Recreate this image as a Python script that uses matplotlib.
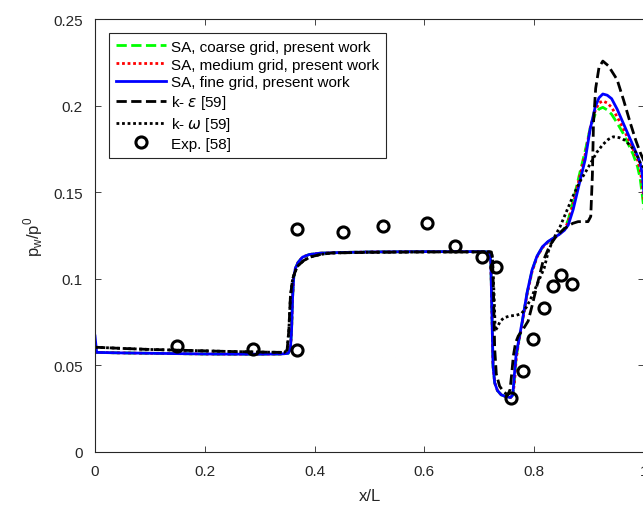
import matplotlib
matplotlib.use("Agg")
import matplotlib.pyplot as plt

plt.rcParams['font.family'] = ['Liberation Sans', 'DejaVu Sans']
plt.rcParams['mathtext.fontset'] = 'custom'
plt.rcParams['mathtext.rm'] = 'Liberation Sans'

# SA (present work) - common x grid
x_sa = [0.0, 0.003, 0.05, 0.10, 0.15, 0.20, 0.25, 0.30, 0.34, 0.352, 0.356, 0.358, 0.360,
        0.362, 0.365, 0.370, 0.378, 0.39, 0.41, 0.45, 0.50, 0.60, 0.70, 0.718, 0.721,
        0.723, 0.725, 0.728, 0.733, 0.740, 0.750, 0.757, 0.761, 0.764, 0.767, 0.771,
        0.778, 0.787, 0.796, 0.805, 0.815, 0.825, 0.835, 0.845, 0.855, 0.862, 0.871,
        0.883, 0.893, 0.902, 0.911, 0.918, 0.925, 0.933, 0.941, 0.951, 0.962, 0.971,
        0.980, 0.988, 0.993, 0.997, 1.0]

sa_fine = [0.067, 0.0575, 0.0572, 0.0570, 0.0568, 0.0566, 0.0565, 0.0565, 0.0566, 0.0570,
           0.0600, 0.0700, 0.0900, 0.1010, 0.1060, 0.1095, 0.1125, 0.1140, 0.1148, 0.1152,
           0.1155, 0.1157, 0.1157, 0.1155, 0.1100, 0.0800, 0.0500, 0.0400, 0.0355, 0.0330,
           0.0318, 0.0315, 0.0330, 0.0450, 0.0560, 0.0630, 0.0750, 0.0920, 0.1050, 0.1130,
           0.1185, 0.1215, 0.1235, 0.1255, 0.1280, 0.1310, 0.1400, 0.1560, 0.1690, 0.1865,
           0.1990, 0.2045, 0.2067, 0.2060, 0.2040, 0.1980, 0.1900, 0.1835, 0.1770, 0.1710,
           0.1670, 0.1600, 0.1490]

sa_medium = [0.0580, 0.0575, 0.0572, 0.0570, 0.0568, 0.0566, 0.0565, 0.0565, 0.0566, 0.0570,
             0.0600, 0.0700, 0.0900, 0.1010, 0.1060, 0.1095, 0.1125, 0.1140, 0.1148, 0.1152,
             0.1155, 0.1157, 0.1157, 0.1155, 0.1100, 0.0800, 0.0500, 0.0400, 0.0355, 0.0330,
             0.0318, 0.0315, 0.0325, 0.0400, 0.0530, 0.0620, 0.0740, 0.0910, 0.1040, 0.1125,
             0.1180, 0.1212, 0.1233, 0.1255, 0.1285, 0.1330, 0.1430, 0.1590, 0.1720, 0.1870,
             0.1970, 0.2015, 0.2027, 0.2015, 0.1990, 0.1935, 0.1870, 0.1810, 0.1750, 0.1690,
             0.1630, 0.1540, 0.1450]

sa_coarse = [0.0580, 0.0575, 0.0572, 0.0570, 0.0568, 0.0566, 0.0565, 0.0565, 0.0566, 0.0570,
             0.0600, 0.0700, 0.0900, 0.1010, 0.1060, 0.1095, 0.1125, 0.1140, 0.1148, 0.1152,
             0.1155, 0.1157, 0.1157, 0.1155, 0.1100, 0.0800, 0.0500, 0.0400, 0.0355, 0.0330,
             0.0318, 0.0315, 0.0328, 0.0420, 0.0540, 0.0625, 0.0745, 0.0915, 0.1045, 0.1128,
             0.1182, 0.1213, 0.1234, 0.1255, 0.1290, 0.1340, 0.1450, 0.1610, 0.1740, 0.1870,
             0.1950, 0.1980, 0.1990, 0.1975, 0.1950, 0.1900, 0.1840, 0.1780, 0.1720, 0.1650,
             0.1580, 0.1480, 0.1400]

# k-epsilon [59]
x_ke = [0.0, 0.05, 0.10, 0.15, 0.20, 0.25, 0.30, 0.345, 0.350, 0.353, 0.356, 0.360, 0.368,
        0.380, 0.392, 0.410, 0.430, 0.50, 0.60, 0.70, 0.722, 0.724, 0.726, 0.728, 0.731,
        0.737, 0.745, 0.752, 0.756, 0.759, 0.762, 0.766, 0.771, 0.780, 0.789, 0.796, 0.805,
        0.816, 0.828, 0.840, 0.855, 0.870, 0.880, 0.898, 0.903, 0.906, 0.908, 0.912, 0.918,
        0.925, 0.935, 0.951, 0.963, 0.975, 0.985, 0.993, 1.0]
y_ke = [0.0605, 0.0598, 0.0592, 0.0588, 0.0584, 0.0580, 0.0577, 0.0575, 0.0590, 0.0700,
        0.0900, 0.1000, 0.1070, 0.1105, 0.1126, 0.1140, 0.1149, 0.1153, 0.1155, 0.1155,
        0.1155, 0.1120, 0.0900, 0.0600, 0.0450, 0.0380, 0.0345, 0.0330, 0.0360, 0.0450,
        0.0554, 0.0630, 0.0670, 0.0710, 0.0756, 0.0843, 0.0960, 0.1100, 0.1190, 0.1245,
        0.1290, 0.1320, 0.1330, 0.1330, 0.1360, 0.1600, 0.1900, 0.2100, 0.2220, 0.2257,
        0.2230, 0.2150, 0.2030, 0.1900, 0.1800, 0.1730, 0.1680]

# k-omega [59]
x_kw = [0.0, 0.05, 0.10, 0.15, 0.20, 0.25, 0.30, 0.345, 0.350, 0.353, 0.356, 0.360, 0.368,
        0.380, 0.392, 0.410, 0.430, 0.50, 0.60, 0.70, 0.722, 0.724, 0.727, 0.729, 0.733,
        0.738, 0.745, 0.755, 0.768, 0.777, 0.786, 0.796, 0.807, 0.818, 0.826, 0.835, 0.847,
        0.859, 0.871, 0.883, 0.896, 0.905, 0.914, 0.925, 0.935, 0.944, 0.955, 0.965, 0.975,
        0.985, 0.993, 1.0]
y_kw = [0.0605, 0.0598, 0.0592, 0.0588, 0.0584, 0.0580, 0.0577, 0.0575, 0.0590, 0.0700,
        0.0900, 0.1000, 0.1070, 0.1105, 0.1126, 0.1140, 0.1149, 0.1153, 0.1155, 0.1155,
        0.1155, 0.1120, 0.0900, 0.0700, 0.0720, 0.0755, 0.0775, 0.0785, 0.0790, 0.0800,
        0.0837, 0.0900, 0.0980, 0.1060, 0.1160, 0.1230, 0.1300, 0.1390, 0.1480, 0.1560,
        0.1630, 0.1680, 0.1730, 0.1775, 0.1805, 0.1820, 0.1815, 0.1800, 0.1770, 0.1730,
        0.1670, 0.1640]

# Exp. [58]
x_exp = [0.149, 0.288, 0.368, 0.368, 0.451, 0.525, 0.605, 0.656, 0.705, 0.730, 0.758,
         0.780, 0.798, 0.818, 0.835, 0.849, 0.868]
y_exp = [0.0612, 0.0595, 0.1288, 0.0589, 0.1270, 0.1305, 0.1320, 0.1190, 0.1126, 0.1068,
         0.0312, 0.0468, 0.0652, 0.0831, 0.0958, 0.1022, 0.0970]

fig = plt.figure(figsize=(6.43, 5.06), dpi=100)
ax = fig.add_axes([95 / 643, 53 / 506, 549 / 643, 433 / 506])

lw = 2.0
ax.plot(x_sa, sa_coarse, color=(0, 1, 0), ls='--', lw=lw, label='SA, coarse grid, present work')
ax.plot(x_sa, sa_medium, color=(1, 0, 0), ls=(0, (1, 1)), lw=lw, label='SA, medium grid, present work')
ax.plot(x_sa, sa_fine, color=(0, 0, 1), ls='-', lw=lw, label='SA, fine grid, present work')
ax.plot(x_ke, y_ke, color='k', ls='--', lw=lw, label=r'k- $\epsilon$ [59]')
ax.plot(x_kw, y_kw, color='k', ls=(0, (1, 1)), lw=lw, label=r'k- $\omega$ [59]')
ax.plot(x_exp, y_exp, ls='none', marker='o', ms=8, mfc='none', mec='k', mew=2.2, label='Exp. [58]')

ax.set_xlim(0, 1)
ax.set_ylim(0, 0.25)
ax.set_xticks([0, 0.2, 0.4, 0.6, 0.8, 1])
ax.set_xticklabels(['0', '0.2', '0.4', '0.6', '0.8', '1'])
ax.set_yticks([0, 0.05, 0.1, 0.15, 0.2, 0.25])
ax.set_yticklabels(['0', '0.05', '0.1', '0.15', '0.2', '0.25'])
ax.tick_params(direction='in', top=True, right=True, length=4, width=0.6,
               labelsize=11, colors='#262626')
ax.tick_params(axis='x', pad=9)
ax.tick_params(axis='y', pad=9)
for s in ax.spines.values():
    s.set_linewidth(0.8)
    s.set_color('#262626')

ax.set_xlabel('x/L', fontsize=12, color='#262626', labelpad=7)
ax.set_ylabel(r'p$_\mathregular{w}$/p$^\mathregular{0}$', fontsize=12, color='#262626', labelpad=6)

leg = ax.legend(loc='upper left', bbox_to_anchor=(0.025, 0.968), fontsize=11,
                handlelength=3.3, handletextpad=0.35, labelspacing=0.25,
                borderpad=0.45, borderaxespad=0, fancybox=False, framealpha=1)
leg.get_frame().set_edgecolor('#262626')
leg.get_frame().set_linewidth(0.8)

fig.savefig('out.png', dpi=100)
